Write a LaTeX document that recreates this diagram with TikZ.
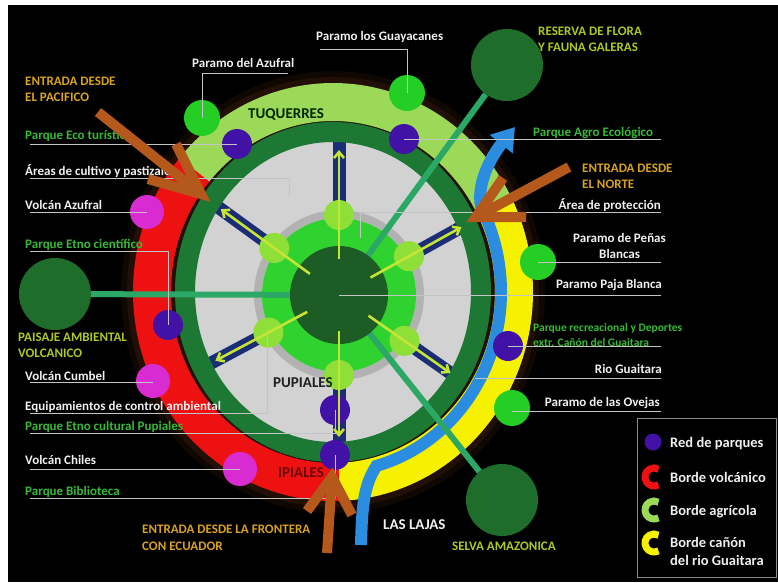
\documentclass[tikz,border=0pt]{standalone}
\usepackage{fontspec}
\setmainfont{Carlito}
\usetikzlibrary{arrows.meta,calc}
\definecolor{ringdark}{HTML}{1C7833}
\definecolor{gdiscA}{HTML}{D2D2D2}
\definecolor{gdiscB}{HTML}{C4C4C4}
\definecolor{gdiscC}{HTML}{9A9A9A}
\definecolor{brightgreen}{HTML}{30D230}
\definecolor{coredark}{HTML}{1D5C24}
\definecolor{agri}{HTML}{9CD958}
\definecolor{volc}{HTML}{EE1111}
\definecolor{canyon}{HTML}{F6F100}
\definecolor{river}{HTML}{2B8DE0}
\definecolor{entry}{HTML}{B5581C}
\definecolor{park}{HTML}{4212A6}
\definecolor{volcdotc}{HTML}{D92BD2}
\definecolor{paramoc}{HTML}{25CE25}
\definecolor{limec}{HTML}{8EDF38}
\definecolor{arrowyg}{HTML}{C6E434}
\definecolor{navybar}{HTML}{1B2D76}
\definecolor{tealc}{HTML}{2BA865}
\definecolor{bigdark}{HTML}{1F6D2B}
\definecolor{goldc}{HTML}{D9A21F}
\definecolor{txtgreen}{HTML}{36BA36}
\definecolor{txtyg}{HTML}{B0C820}
\definecolor{txtwhite}{HTML}{F0F0F0}
\definecolor{lblgray}{HTML}{C4C4C4}
\definecolor{haloc}{HTML}{221006}
\definecolor{legendframe}{HTML}{8A8A8A}
\pgfdeclareradialshading{graydisc}{\pgfpoint{0bp}{0bp}}{color(0bp)=(gdiscA); color(36bp)=(gdiscA); color(45bp)=(gdiscB); color(50bp)=(gdiscC)}
\begin{document}
\begin{tikzpicture}[x=1pt,y=-1pt,
  band/.style={line width=38pt},
  lbl/.style={draw=lblgray, line width=0.9pt},
  dot/.style={circle, inner sep=0pt, draw=none},
  parkdot/.style={dot, fill=park, minimum size=30pt},
  volcandot/.style={dot, fill=volcdotc, minimum size=34pt},
  paramodot/.style={dot, fill=paramoc, minimum size=36pt},
  limedot/.style={dot, fill=limec, minimum size=30pt},
  bigdot/.style={dot, fill=bigdark, minimum size=72pt},
  navyline/.style={draw=navybar, line width=13pt},
  spokearrow/.style={draw=arrowyg, line width=2.6pt, -{Straight Barb[length=6pt,width=10pt]}},
  tealline/.style={draw=tealc, line width=6pt},
  entryarrow/.style={draw=entry, line width=10pt, line join=miter},
  txt/.style={inner sep=0pt, anchor=base west, font=\bfseries\fontsize{13}{15}\selectfont},
  wt/.style={txt, text=txtwhite},
  gt/.style={txt, text=txtgreen},
  goldt/.style={txt, text=goldc},
  ygt/.style={txt, text=txtyg},
  placet/.style={inner sep=0pt, anchor=base west, font=\bfseries\fontsize{15}{17}\selectfont},
  legt/.style={inner sep=0pt, anchor=base west, text=txtwhite, font=\bfseries\fontsize{14.5}{17}\selectfont}
]
\useasboundingbox (0,0) rectangle (778,582);
\fill[white] (0,0) rectangle (778,582);
\fill[black] (8,5) rectangle (778,582);

\coordinate (rc) at (333,292);
\coordinate (c) at (339,295);

% soft halo and outer bands
\draw[line width=62pt, draw=haloc, opacity=0.45] (rc) ellipse[x radius=181, y radius=190];
\draw[line width=50pt, draw=haloc] (rc) ellipse[x radius=181, y radius=190];
\draw[band, draw=agri] ($(rc)+(-27:181 and 190)$) arc[start angle=-27, end angle=-140, x radius=181, y radius=190];
\draw[band, draw=volc] ($(rc)+(-140:181 and 190)$) arc[start angle=-140, end angle=-272, x radius=181, y radius=190];
\draw[band, draw=canyon] ($(rc)+(88:181 and 190)$) arc[start angle=88, end angle=-27, x radius=181, y radius=190];

% gray disc
\shade[shading=graydisc] (rc) ellipse[x radius=140, y radius=152];

% navy spoke bars
\foreach \a/\L in {90/160, 29/152, 144/160, 208/158, 325/150, 270/150}{
  \draw[navyline] ($(c)+(-\a:92)$) -- ($(c)+(-\a:\L)$);
}

% dark ring
\draw[line width=20pt, draw=ringdark] (rc) ellipse[x radius=148, y radius=160];

% river
\draw[draw=river, line width=12pt, -{Triangle[length=22pt,width=28pt]}]
  (361,545) .. controls (362,505) and (364,485) .. ($(rc)+(75:168 and 180)$)
  arc[start angle=75, end angle=-28, x radius=168, y radius=180]
  .. controls (476,185) and (490,158) .. (515,127);

% green core
\draw[line width=8pt, draw=black, opacity=0.15] (c) circle[radius=81];
\fill[brightgreen] (c) circle[radius=77];

% big landscape circles
\node[bigdot] (reserva) at (507,65) {};
\node[bigdot] (paisaje) at (55,294) {};
\node[bigdot] (selva) at (502,500) {};
\draw[tealline] (c) -- (reserva);
\draw[tealline] (c) -- (paisaje);
\draw[tealline] (c) -- (selva);

\node[dot, fill=coredark, minimum size=98pt] (core) at (c) {};

% lime nodes on spokes
\foreach \a [count=\i] in {90, 29, 144, 208, 325, 270}{
  \node[limedot] (lime\i) at ($(c)+(-\a:80)$) {};
}

% parks
\node[parkdot] (pk1) at (237,144) {};
\node[parkdot] (pk2) at (404,139) {};
\node[parkdot] (pk3) at (168,325) {};
\node[parkdot] (pk4) at (508,346) {};
\node[parkdot] (pk5) at (335,410) {};
\node[parkdot] (pk6) at (335,455) {};
% volcanoes
\node[volcandot] (vc1) at (147,212) {};
\node[volcandot] (vc2) at (153,381) {};
\node[volcandot] (vc3) at (240,469) {};
% paramos
\node[paramodot] (pm1) at (202,118) {};
\node[paramodot] (pm2) at (407,93) {};
\node[paramodot] (pm3) at (538,262) {};
\node[paramodot] (pm4) at (512,408) {};

% spoke arrows
\foreach \a/\T in {90/145, 29/140, 144/146, 208/140, 325/136, 270/142}{
  \draw[spokearrow] ($(c)+(-\a:36)$) -- ($(c)+(-\a:\T)$);
}

% label leader lines
\draw[lbl] (pm1.center) |- (288,73);
\draw[lbl] (pm2.center) |- (320,49);
\draw[lbl] (30,144) -- (pk1.center);
\coordinate (cultivo) at (289,197);
\draw[lbl] (30,178) -| (cultivo);
\draw[lbl] (30,212) -- (vc1.center);
\draw[lbl] (30,251) -| (pk3.center);
\draw[lbl] (30,382) -- (vc2.center |- 30,382);
\coordinate (equip) at (267,330);
\draw[lbl] (30,413) -| (equip);
\draw[lbl] (30,433) -| (pk5.center);
\draw[lbl] (30,469) -- (vc3.center);
\draw[lbl] (30,498) -| (pk6.center);
\draw[lbl] (pk2.center) -- (661,139);
\coordinate (proteccion) at (360,238);
\draw[lbl] (proteccion) |- (661,212);
\draw[lbl] (pm3.center) -- (661,262);
\draw[lbl] (core.center) -- (661,295);
\draw[lbl] (pk4.center) -- (661,346);
\coordinate (guaitara) at (475,378);
\draw[lbl] (guaitara) -- (661,378);
\draw[lbl] (512,411) -- (661,411);

% texts
\node[goldt] (tPac1) at (25,85) {ENTRADA DESDE};
\node[goldt] (tPac2) at (25,101) {EL PACIFICO};
\node[gt] (tEco) at (25,139) {Parque Eco turístico};
\node[wt] (tCult) at (25,175) {Áreas de cultivo y pastizales};
\node[wt] (tVAz) at (25,209) {Volcán Azufral};
\node[gt] (tEtno) at (25,248) {Parque Etno científico};
\node[ygt] (tPai1) at (18,341) {PAISAJE AMBIENTAL};
\node[ygt] (tPai2) at (18,357) {VOLCANICO};
\node[wt] (tCum) at (25,380) {Volcán Cumbel};
\node[wt] (tEq) at (25,410) {Equipamientos de control ambiental};
\node[gt] (tEtc) at (25,430) {Parque Etno cultural Pupiales};
\node[wt] (tChi) at (25,464) {Volcán Chiles};
\node[gt] (tBib) at (25,495) {Parque Biblioteca};
\node[goldt] (tFr1) at (142,533) {ENTRADA DESDE LA FRONTERA};
\node[goldt] (tFr2) at (142,550) {CON ECUADOR};
\node[wt] (tPAz) at (192,67) {Paramo del Azufral};
\node[wt] (tGuay) at (316,40) {Paramo los Guayacanes};
\node[ygt] (tRes1) at (538,35) {RESERVA DE FLORA};
\node[ygt] (tRes2) at (538,51) {Y FAUNA GALERAS};
\node[placet, text=black!85!green] (tTuq) at (248,118) {TUQUERRES};
\node[gt] (tAgro) at (533,136) {Parque Agro Ecológico};
\node[goldt] (tNor1) at (582,172) {ENTRADA DESDE};
\node[goldt] (tNor2) at (582,188) {EL NORTE};
\node[wt, anchor=base east] (tProt) at (661,209) {Área de protección};
\node[wt] (tPen1) at (573,242) {Paramo de Peñas};
\node[wt] (tPen2) at (599,258) {Blancas};
\node[wt, anchor=base east] (tPaja) at (662,288) {Paramo Paja Blanca};
\node[gt, font=\bfseries\fontsize{11.5}{13}\selectfont] (tRec1) at (533,331) {Parque recreacional y Deportes};
\node[gt, font=\bfseries\fontsize{11.5}{13}\selectfont] (tRec2) at (533,346) {extr. Cañón del Guaitara};
\node[wt, anchor=base east] (tRio) at (662,373) {Rio Guaitara};
\node[wt, anchor=base east] (tOve) at (660,406) {Paramo de las Ovejas};
\node[placet, text=txtwhite] (tLaj) at (383,529) {LAS LAJAS};
\node[ygt] (tSel) at (452,550) {SELVA AMAZONICA};
\node[placet, text=black!88] (tPup) at (273,387) {PUPIALES};
\node[placet, text=volc!45!black] (tIpi) at (278,477) {IPIALES};

% entry arrows
\coordinate (pacTip) at (201,194);
\draw[entryarrow] (98,112) -- (pacTip);
\draw[entryarrow] (176,144) -- (pacTip) -- (148,179);
\coordinate (norTip) at (476,217);
\draw[entryarrow] (569,167) -- (norTip);
\draw[entryarrow] (503,178) -- (norTip) -- (526,217);
\coordinate (froTip) at (332,477);
\draw[entryarrow] (327,553) -- (froTip);
\draw[entryarrow] (307,511) -- (froTip) -- (352,515);

% legend
\draw[draw=legendframe, line width=1pt] (637,418) rectangle (776,577);
\node[dot, fill=park, minimum size=17pt] (lgPark) at (653,442) {};
\coordinate (lgV) at (654,477);
\coordinate (lgA) at (654,510);
\coordinate (lgC) at (654,543);
\draw[draw=volc, line width=7pt] ($(lgV)+(60:9)$) arc[start angle=60, end angle=300, radius=9];
\draw[draw=agri, line width=7pt] ($(lgA)+(60:9)$) arc[start angle=60, end angle=300, radius=9];
\draw[draw=canyon, line width=7pt] ($(lgC)+(60:9)$) arc[start angle=60, end angle=300, radius=9];
\node[legt] (lt1) at (670,447) {Red de parques};
\node[legt] (lt2) at (670,482) {Borde volcánico};
\node[legt] (lt3) at (670,515) {Borde agrícola};
\node[legt] (lt4) at (670,547) {Borde cañón};
\node[legt] (lt5) at (670,565) {del rio Guaitara};
\end{tikzpicture}
\end{document}
